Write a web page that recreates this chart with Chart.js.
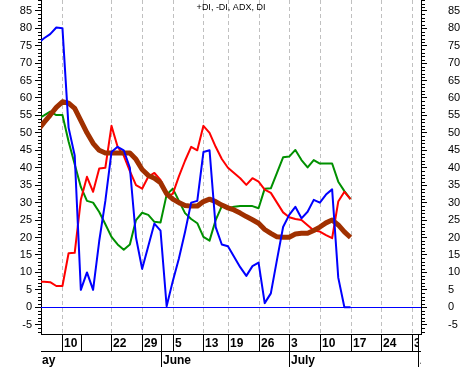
<!DOCTYPE html>
<html>

<head>
  <meta charset="utf-8" />
  <title>+DI, -DI, ADX, DI</title>
  <script src="https://cdn.jsdelivr.net/npm/chart.js"></script>
  <style>
    html, body { margin: 0; padding: 0; background: #fff; }
  </style>
</head>

<body>
  <canvas id="dmiChart" width="462" height="367"></canvas>

  <script>
    // Trading days are counted from May 10 (day 0); the first value is day -4
    const firstDay = -4;

    // DI (blue)
    const diValues = [75.7, 77.1, 78.3, 80.2, 80, 51.5, 43.5, 5, 10, 5,
      19, 30.5, 44.5, 46, 45, 40, 20, 11, 17.5, 24,
      22, 0.3, 7.5, 14, 21.6, 30, 30.5, 44.5, 45, 23,
      18, 17.5, 14.5, 11.5, 9, 11.8, 12.8, 1.2, 4, 13.6,
      23, 26.5, 28.8, 25.5, 27.4, 30.8, 30, 32.3, 33.8, 8.5,
      0, 0];
    // -DI (red)
    const minusDI = [7.3, 7.3, 7.2, 6.1, 6.1, 15.5, 15.6, 30.8, 37.4, 33.1,
      39.8, 40, 52, 46, 43.5, 39, 35, 34, 37.4, 38.5,
      36.5, 32, 32.5, 37.5, 42, 46, 45, 52, 50, 46,
      42.5, 40, 38.5, 37, 35.1, 37, 36, 33.7, 32.8, 30,
      27.2, 25.8, 25.3, 25, 23.5, 22, 21.7, 20.7, 19.8, 30.3,
      33.1, 31];
    // +DI (green)
    const plusDI = [54, 55, 56.1, 55.1, 55.1, 47.5, 41, 34.5, 30.5, 30,
      27.3, 23.8, 20.2, 18, 16.5, 18, 25, 27.1, 26.5, 24.5,
      24.3, 32.3, 34, 30.5, 27, 25.3, 24.1, 20.2, 19.1, 25,
      29, 28.4, 28.8, 29, 29, 29, 28.4, 34, 34.1, 38.5,
      43, 43.2, 45.1, 42.2, 40.1, 42.2, 41.2, 41.2, 41.2, 36,
      33.3, 31];
    // ADX (brown)
    const adxValues = [50.8, 53, 55.1, 57.3, 58.9, 58.5, 57, 53.5, 50, 47,
      45, 44.2, 44.2, 44.2, 44.2, 44.2, 42.4, 39.5, 37.8, 37,
      35.7, 32.5, 31, 30, 29.2, 29, 29, 30.3, 31, 30.3,
      29.3, 28.5, 27.9, 27, 26, 25.1, 24.1, 22.3, 21.2, 20.2,
      20.1, 20.1, 21, 21.2, 21.2, 22, 23, 24.2, 25, 23.6,
      21.6, 20];

    // Bottom axis: day ticks (a blank label is a separator only) and months
    const dayTicks = [0, 3, 8, 13, 18, 23, 27, 32, 37, 42, 47, 52, 57];
    const dayTickLabels = ['10', '', '22', '29', '5', '13', '19', '26', '3', '10', '17', '24', '31'];
    const monthStarts = [-7, 16, 37, 58];
    const monthLabels = ['May', 'June', 'July', 'Aug'];

    const xMin = -3.5, xMax = 58.5;
    const yMin = -7.65, yMax = 88.07;

    const toPoints = vals => vals.map((v, k) => ({ x: firstDay + k, y: v }));

    // Axis frame, grid, minor ticks, date rows and title
    const dmiFrame = {
      id: 'dmiFrame',
      beforeDatasetsDraw(chart) {
        const { ctx, chartArea: a, scales: { x, y } } = chart;
        ctx.save();
        // dashed grid lines on labelled days
        ctx.strokeStyle = '#c0c0c0';
        ctx.lineWidth = 1;
        ctx.setLineDash([4, 3]);
        dayTicks.forEach((d, k) => {
          if (!dayTickLabels[k]) return;
          const px = Math.round(x.getPixelForValue(d)) + 0.5;
          ctx.beginPath();
          ctx.moveTo(px, a.top);
          ctx.lineTo(px, a.bottom);
          ctx.stroke();
        });
        ctx.setLineDash([]);
        // zero line
        const y0 = Math.round(y.getPixelForValue(0)) + 0.5;
        ctx.strokeStyle = '#0000ff';
        ctx.beginPath();
        ctx.moveTo(a.left, y0);
        ctx.lineTo(a.right, y0);
        ctx.stroke();
        ctx.restore();
      },
      afterDraw(chart) {
        const { ctx, chartArea: a, scales: { x, y } } = chart;
        ctx.save();
        ctx.strokeStyle = '#000';
        ctx.lineWidth = 1;

        // minor ticks on both value axes
        for (let v = Math.ceil(y.min); v <= Math.floor(y.max); v++) {
          if (v % 5 === 0) continue;
          const py = Math.round(y.getPixelForValue(v)) + 0.5;
          ctx.beginPath();
          ctx.moveTo(a.left - 3, py);
          ctx.lineTo(a.left, py);
          ctx.moveTo(a.right, py);
          ctx.lineTo(a.right + 4, py);
          ctx.stroke();
        }

        // date rows
        const top = a.bottom;
        const mid = top + 17;
        const end = chart.height;
        ctx.beginPath();
        ctx.moveTo(a.left, top + 0.5);
        ctx.lineTo(a.right + 1, top + 0.5);
        ctx.moveTo(a.left, mid + 0.5);
        ctx.lineTo(a.right, mid + 0.5);
        ctx.stroke();

        const dayPx = dayTicks.map(d => Math.round(x.getPixelForValue(d)));
        const monthPx = monthStarts.map(d => Math.round(x.getPixelForValue(d)));
        ctx.beginPath();
        dayPx.forEach(px => {
          ctx.moveTo(px + 0.5, top);
          ctx.lineTo(px + 0.5, mid);
        });
        monthPx.forEach(px => {
          if (px < a.left) return;
          ctx.moveTo(px + 0.5, top);
          ctx.lineTo(px + 0.5, end);
        });
        ctx.stroke();

        ctx.fillStyle = '#000';
        ctx.font = 'bold 12px "Liberation Sans", Arial, sans-serif';
        ctx.textBaseline = 'middle';
        ctx.textAlign = 'left';

        const seps = dayPx.concat(monthPx.filter(p => p >= a.left)).sort((p, q) => p - q);
        dayPx.forEach((px, k) => {
          if (!dayTickLabels[k]) return;
          const next = seps.find(s => s > px) || a.right;
          ctx.save();
          ctx.beginPath();
          ctx.rect(px + 1, top + 1, next - px - 1, mid - top - 1);
          ctx.clip();
          ctx.fillText(dayTickLabels[k], px + 2, top + 9.5);
          ctx.restore();
        });

        monthPx.forEach((px, k) => {
          const from = Math.max(px, a.left);
          const next = k + 1 < monthPx.length ? monthPx[k + 1] : a.right;
          const to = Math.min(next, a.right);
          if (to <= from) return;
          const tx = px < a.left ? a.left - 9 : px + 2;
          ctx.save();
          ctx.beginPath();
          ctx.rect(from + 1, mid + 1, to - from - 1, end - mid - 1);
          ctx.clip();
          ctx.fillText(monthLabels[k], tx, mid + 9.5);
          ctx.restore();
        });

        // title
        ctx.font = '9px "Liberation Sans", Arial, sans-serif';
        ctx.textAlign = 'center';
        ctx.fillText('+DI, -DI, ADX, DI', (a.left + a.right) / 2, 8);
        ctx.restore();
      }
    };

    // fixed widths for the value axes, no extra label padding
    const fixAxis = scale => {
      scale.width = 41;
      scale.paddingTop = 0;
      scale.paddingBottom = 0;
    };

    const tickFont = { family: '"Liberation Sans", Arial, sans-serif', size: 11 };

    const dmiChart = new Chart(document.getElementById('dmiChart').getContext('2d'), {
      type: 'line',
      data: {
        datasets: [
          {
            label: 'DI',
            data: toPoints(diValues),
            borderColor: '#0000ff',
            borderWidth: 2,
            order: 1
          },
          {
            label: 'ADX',
            data: toPoints(adxValues),
            borderColor: '#a03000',
            borderWidth: 5,
            order: 2
          },
          {
            label: '-DI',
            data: toPoints(minusDI),
            borderColor: '#ff0000',
            borderWidth: 2,
            order: 3
          },
          {
            label: '+DI',
            data: toPoints(plusDI),
            borderColor: '#009000',
            borderWidth: 2,
            order: 4
          }
        ]
      },
      options: {
        responsive: false,
        animation: false,
        devicePixelRatio: 1,
        layout: { padding: { top: 0, bottom: 33, left: 0, right: 0 }, autoPadding: false },
        elements: {
          point: { radius: 0 },
          line: { tension: 0, fill: false, borderJoinStyle: 'round' }
        },
        datasets: { line: { clip: 0 } },
        plugins: {
          legend: { display: false },
          tooltip: { enabled: false },
          title: { display: false }
        },
        scales: {
          x: {
            type: 'linear',
            display: false,
            min: xMin,
            max: xMax
          },
          y: {
            position: 'left',
            min: yMin,
            max: yMax,
            afterFit: fixAxis,
            grid: { drawOnChartArea: false, tickLength: 6, color: '#000' },
            border: { display: true, color: '#000', width: 1 },
            ticks: { stepSize: 5, includeBounds: false, autoSkip: false, padding: 3, color: '#000', font: tickFont }
          },
          y2: {
            position: 'right',
            min: yMin,
            max: yMax,
            afterFit: fixAxis,
            grid: { drawOnChartArea: false, tickLength: 6, color: '#000' },
            border: { display: true, color: '#000', width: 1 },
            ticks: { stepSize: 5, includeBounds: false, autoSkip: false, padding: 21, color: '#000', font: tickFont }
          }
        }
      },
      plugins: [dmiFrame]
    });
  </script>
</body>

</html>
